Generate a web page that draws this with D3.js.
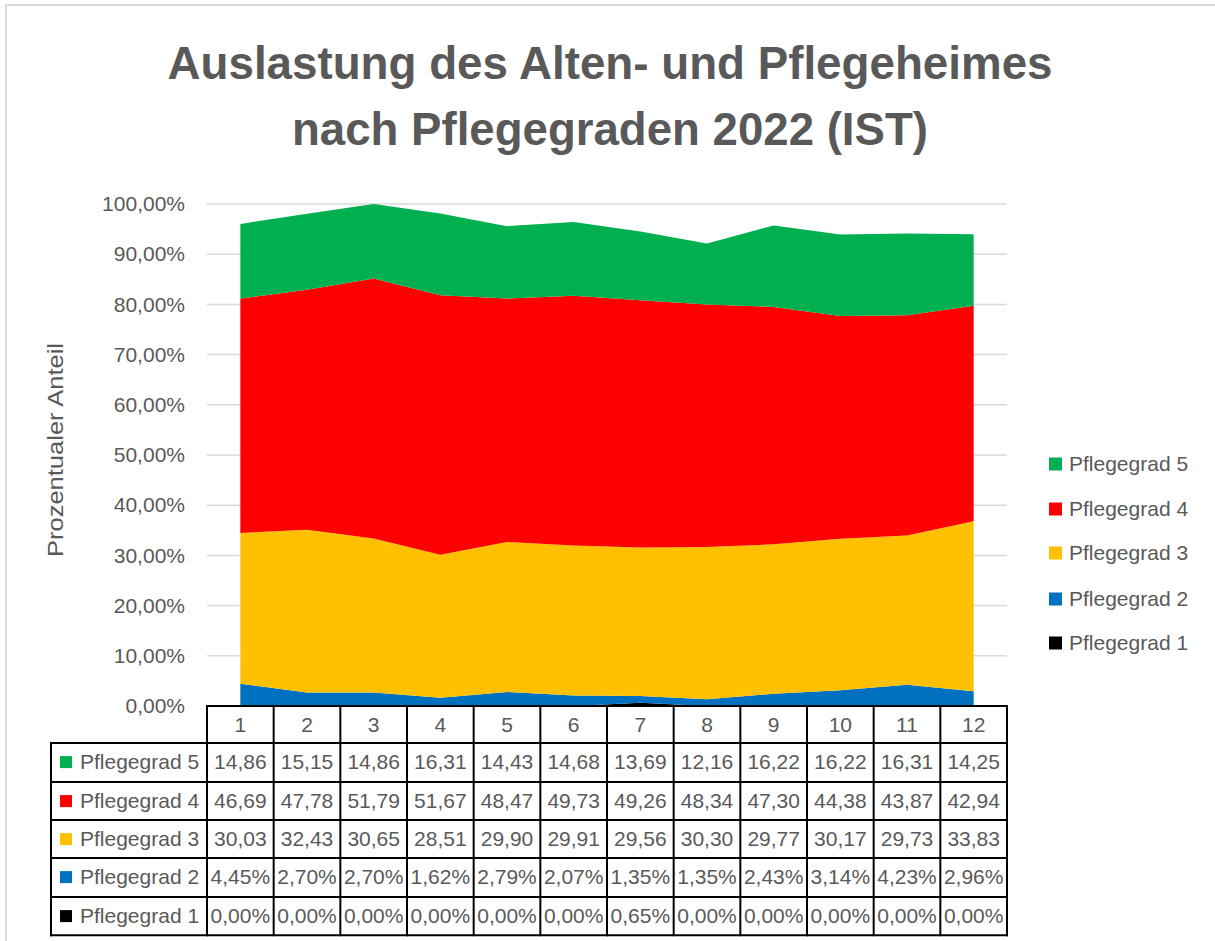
<!DOCTYPE html>
<html>
<head>
<meta charset="utf-8">
<script src="https://cdn.jsdelivr.net/npm/d3@7"></script>
<style>
  html, body { margin: 0; padding: 0; background: #fff; }
  svg { display: block; }
  text { font-family: "Liberation Sans", Arial, sans-serif; fill: #595959; }
</style>
</head>
<body>
<svg id="chart" width="1215" height="941"></svg>
<script>
// ---- data ----
const months = [1, 2, 3, 4, 5, 6, 7, 8, 9, 10, 11, 12];
const seriesNames = ["Pflegegrad 1", "Pflegegrad 2", "Pflegegrad 3", "Pflegegrad 4", "Pflegegrad 5"];
const seriesColors = ["#000000", "#0070C0", "#FFC000", "#FF0000", "#00B050"];
const pg1 = [0.00, 0.00, 0.00, 0.00, 0.00, 0.00, 0.65, 0.00, 0.00, 0.00, 0.00, 0.00];
const pg2 = [4.45, 2.70, 2.70, 1.62, 2.79, 2.07, 1.35, 1.35, 2.43, 3.14, 4.23, 2.96];
const pg3 = [30.03, 32.43, 30.65, 28.51, 29.90, 29.91, 29.56, 30.30, 29.77, 30.17, 29.73, 33.83];
const pg4 = [46.69, 47.78, 51.79, 51.67, 48.47, 49.73, 49.26, 48.34, 47.30, 44.38, 43.87, 42.94];
const pg5 = [14.86, 15.15, 14.86, 16.31, 14.43, 14.68, 13.69, 12.16, 16.22, 16.22, 16.31, 14.25];
const yTicks = [0, 10, 20, 30, 40, 50, 60, 70, 80, 90, 100];
const titleLines = ["Auslastung des Alten- und Pflegeheimes", "nach Pflegegraden 2022 (IST)"];
const yAxisTitle = "Prozentualer Anteil";
// rows where the cell text shows the % sign (narrow columns cut it off for the others)
const showPercent = [true, true, false, false, false];

const seriesValues = [pg1, pg2, pg3, pg4, pg5];
const table = months.map((m, i) => {
  const row = { month: m };
  seriesNames.forEach((n, k) => row[n] = seriesValues[k][i]);
  return row;
});

const svg = d3.select("#chart");
const locale = d3.formatLocale({ decimal: ",", thousands: ".", grouping: [3], currency: ["", "€"] });
const f2 = locale.format(".2f");

// outer frame
svg.append("rect").attr("x", 6).attr("y", 5).attr("width", 1260).attr("height", 1000)
  .attr("fill", "none").attr("stroke", "#d9d9d9").attr("stroke-width", 2);

// title
const tl = svg.append("g");
const titleWidths = [885, 636];
const titleBase = [79, 145];
titleLines.forEach((t, i) => {
  tl.append("text").attr("x", 610).attr("y", titleBase[i])
    .attr("text-anchor", "middle").style("font-weight", "bold").style("font-size", "46px")
    .attr("textLength", titleWidths[i]).attr("lengthAdjust", "spacingAndGlyphs")
    .text(t);
});

// scales
const plotLeft = 207, plotRight = 1007, plotTop = 204, plotBottom = 706;
const x = d3.scaleBand().domain(months).range([plotLeft, plotRight]).padding(0);
const xc = d => x(d) + x.bandwidth() / 2;
const y = d3.scaleLinear().domain([0, 100]).range([plotBottom, plotTop]);

// gridlines
svg.append("g").selectAll("line").data(yTicks).join("line")
  .attr("x1", plotLeft).attr("x2", plotRight)
  .attr("y1", d => y(d)).attr("y2", d => y(d))
  .attr("stroke", "#d9d9d9").attr("stroke-width", 1.5);

// y axis labels
const yAxis = d3.axisLeft(y).tickValues(yTicks).tickSize(0).tickPadding(0)
  .tickFormat(d => f2(d) + "%");
const ya = svg.append("g").attr("transform", `translate(185,0)`).call(yAxis);
ya.select(".domain").remove();
ya.selectAll("text").style("font-size", "21px").attr("fill", "#595959")
  .style("font-family", "'Liberation Sans', Arial, sans-serif");

// y axis title
svg.append("text").attr("transform", "translate(63,450) rotate(-90)")
  .attr("text-anchor", "middle").style("font-size", "22px")
  .attr("textLength", 214).attr("lengthAdjust", "spacingAndGlyphs")
  .text(yAxisTitle);

// stacked areas
const stack = d3.stack().keys(seriesNames);
const stacked = stack(table);
const area = d3.area().x(d => xc(d.data.month)).y0(d => y(d[0])).y1(d => y(d[1]));
svg.append("g").selectAll("path").data(stacked).join("path")
  .attr("d", area).attr("fill", (d, i) => seriesColors[i]);

// legend (right)
const legendY = [643, 599, 553, 509, 464];
const lg = svg.append("g");
seriesNames.forEach((n, i) => {
  lg.append("rect").attr("x", 1049).attr("y", legendY[i] - 6.5).attr("width", 13).attr("height", 13)
    .attr("fill", seriesColors[i]);
  lg.append("text").attr("x", 1069).attr("y", legendY[i]).attr("dy", "0.35em")
    .style("font-size", "21px").text(n);
});

// data table
const rowTops = [743, 782, 820, 858, 897];
const rowH = 38.2;
const tableLeft = 51;
const tg = svg.append("g");
// header
months.forEach(m => {
  tg.append("text").attr("x", xc(m)).attr("y", (706 + 743) / 2).attr("dy", "0.35em")
    .attr("text-anchor", "middle").style("font-size", "21px").text(m);
});
// rows (top row is Pflegegrad 5)
const rowOrder = [4, 3, 2, 1, 0];
rowOrder.forEach((k, r) => {
  const cy = rowTops[r] + rowH / 2;
  tg.append("rect").attr("x", 60).attr("y", cy - 6).attr("width", 12).attr("height", 12)
    .attr("fill", seriesColors[k]);
  tg.append("text").attr("x", 80).attr("y", cy).attr("dy", "0.35em")
    .style("font-size", "21px").text(seriesNames[k]);
  months.forEach((m, i) => {
    const v = seriesValues[k][i];
    tg.append("text").attr("x", xc(m)).attr("y", cy).attr("dy", "0.35em")
      .attr("text-anchor", "middle").style("font-size", "21px")
      .text(f2(v) + (showPercent[k] ? "%" : ""));
  });
});
// grid lines of table
const bottom = rowTops[4] + rowH;
const lines = [];
lines.push([plotLeft, 706, plotRight, 706]);
rowTops.forEach(t => lines.push([tableLeft, t, plotRight, t]));
lines.push([tableLeft, bottom, plotRight, bottom]);
lines.push([tableLeft, rowTops[0], tableLeft, bottom]);
months.forEach(m => lines.push([x(m), 706, x(m), bottom]));
lines.push([plotRight, 706, plotRight, bottom]);
tg.selectAll("line").data(lines).join("line")
  .attr("x1", d => d[0]).attr("y1", d => d[1]).attr("x2", d => d[2]).attr("y2", d => d[3])
  .attr("stroke", "#000").attr("stroke-width", 2).attr("stroke-linecap", "square");
</script>
</body>
</html>
